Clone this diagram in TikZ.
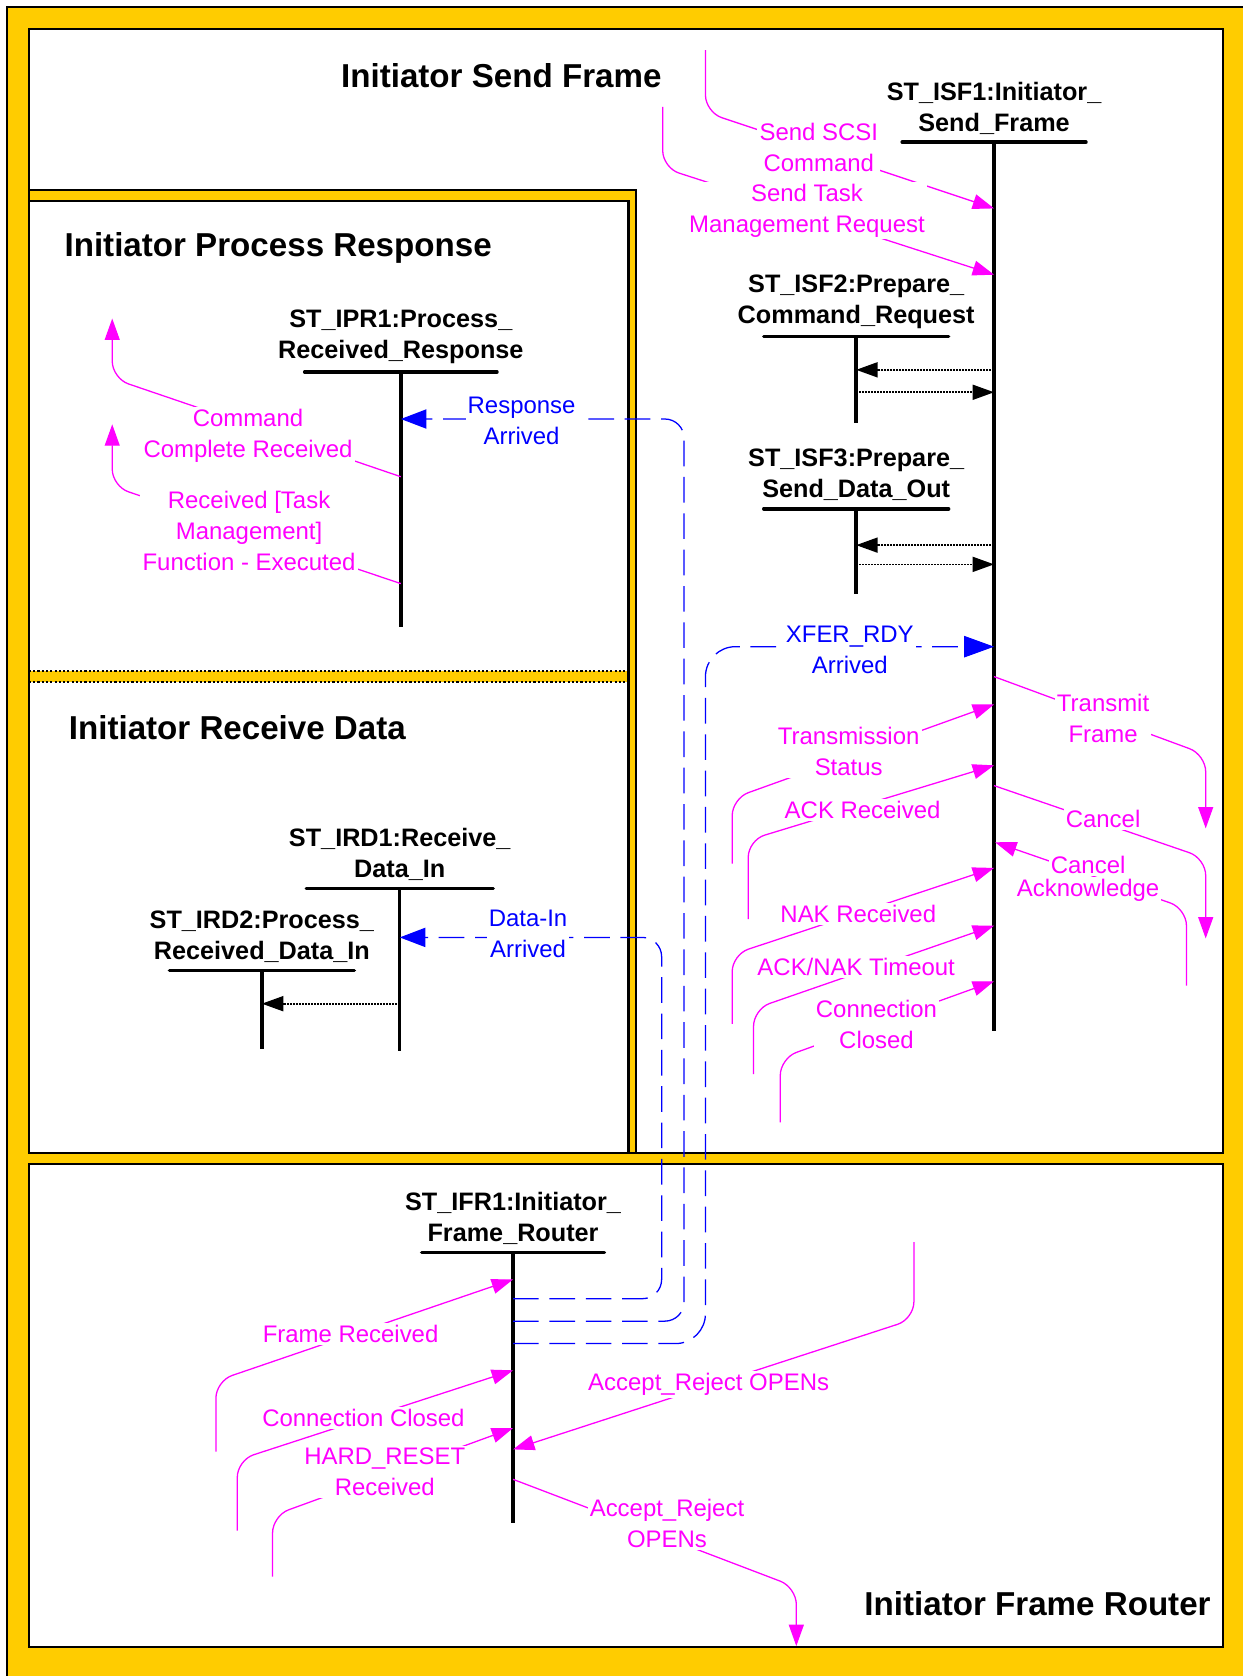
\documentclass[tikz,border=0pt]{standalone}
\usepackage{fontspec}
\setmainfont{Liberation Sans}
\usetikzlibrary{positioning,arrows.meta}
\definecolor{frameyellow}{RGB}{255,204,0}
\definecolor{msgmagenta}{RGB}{255,0,255}
\definecolor{arrblue}{RGB}{0,0,255}

\begin{document}
\begin{tikzpicture}[x=0.5pt, y=-0.5pt,
  title/.style={inner sep=0pt, font=\fontsize{15.5}{18}\selectfont\bfseries},
  stname/.style={align=center, inner sep=1pt, font=\fontsize{11.8}{14.5}\selectfont\bfseries},
  bar/.style={line width=1.6pt, line cap=round},
  life/.style={line width=1.6pt},
  lbl/.style={text=msgmagenta, fill=white, align=center, inner sep=1pt, font=\fontsize{11.2}{14.5}\selectfont},
  blbl/.style={lbl, text=arrblue},
  msg/.style={draw=msgmagenta, line width=0.6pt, rounded corners=8pt, -{Triangle[length=10pt,width=7pt]}},
  msgback/.style={msg, {Triangle[length=10pt,width=7pt]}-},
  frm/.style={draw=arrblue, line width=0.6pt, dash pattern=on 12pt off 5pt, rounded corners=9pt, -{Triangle[length=12pt,width=9pt]}},
  call/.style={line width=0.8pt, dash pattern=on 1pt off 0.4pt, -{Triangle[length=10pt,width=7pt]}}]

  \useasboundingbox (0,0) rectangle (1163,1568);
  \fill[frameyellow] (6.5,6.5) rectangle (1163,1568);
  \draw[line width=1pt] (6.5,1568) -- (6.5,6.5) -- (1163,6.5);
  \fill[white] (27,27) rectangle (1144,1079);
  \fill[white] (27,1089) rectangle (1144,1541);
  \fill[frameyellow] (27,178) rectangle (595,1079);
  \fill[white] (27,188) rectangle (588,628);
  \fill[white] (27,638) rectangle (588,1079);
  \draw[line width=1pt] (27,178) -- (595,178) -- (595,1079);
  \draw[line width=1pt] (27,188) -- (588,188) -- (588,1079);
  \draw[line width=1pt, densely dotted] (27,628) -- (588,628) (27,638) -- (588,638);
  \draw[line width=1pt] (27,27) rectangle (1144,1079);
  \draw[line width=1pt] (27,1089) rectangle (1144,1541);

  \node[title] (tsend) at (469,71) {Initiator Send Frame};
  \node[title, anchor=west] (tproc) at (60,232) {Initiator Process Response};
  \node[title, anchor=west] (trecv) at (64,681) {Initiator Receive Data};
  \node[title, anchor=east] (trout) at (1133,1500) {Initiator Frame Router};

  \coordinate (isf1-top) at (930,133);
  \coordinate (isf1-end) at (930,965);
  \coordinate (isf2-top) at (801,315);
  \coordinate (isf2-end) at (801,396);
  \coordinate (isf3-top) at (801,476);
  \coordinate (isf3-end) at (801,556);
  \coordinate (ipr1-top) at (375,348);
  \coordinate (ipr1-end) at (375,587);
  \coordinate (ird1-top) at (374,831);
  \coordinate (ird1-end) at (374,983);
  \coordinate (ird2-top) at (245,908);
  \coordinate (ird2-end) at (245,981);
  \coordinate (ifr1-top) at (480,1172);
  \coordinate (ifr1-end) at (480,1425);

  \node[stname, above=2.5pt of isf1-top] (isf1) {ST\_ISF1:Initiator\_\\Send\_Frame};
  \node[stname, above=2.5pt of isf2-top] (isf2) {ST\_ISF2:Prepare\_\\Command\_Request};
  \node[stname, above=2.5pt of isf3-top] (isf3) {ST\_ISF3:Prepare\_\\Send\_Data\_Out};
  \node[stname, above=2.5pt of ipr1-top] (ipr1) {ST\_IPR1:Process\_\\Received\_Response};
  \node[stname, above=2.5pt of ird1-top] (ird1) {ST\_IRD1:Receive\_\\Data\_In};
  \node[stname, above=2.5pt of ird2-top] (ird2) {ST\_IRD2:Process\_\\Received\_Data\_In};
  \node[stname, above=2.5pt of ifr1-top] (ifr1) {ST\_IFR1:Initiator\_\\Frame\_Router};

  \foreach \s/\w in {isf1/172, isf2/173, isf3/173, ipr1/180, ird1/175, ird2/173, ifr1/171} {
    \draw[bar] (\s-top) ++(-\w/2,0) -- ++(\w,0);
    \draw[life] (\s-top) -- (\s-end);
  }

  \coordinate (isf1-scsi) at (930,195);
  \coordinate (isf1-task) at (930,257);
  \coordinate (isf1-c2a) at (930,346);
  \coordinate (isf1-c2b) at (930,367);
  \coordinate (isf1-c3a) at (930,510);
  \coordinate (isf1-c3b) at (930,528);
  \coordinate (isf1-xfer) at (930,605);
  \coordinate (isf1-tx) at (930,633);
  \coordinate (isf1-tstat) at (930,659);
  \coordinate (isf1-ack) at (930,716);
  \coordinate (isf1-cancel) at (930,735);
  \coordinate (isf1-cack) at (931,788);
  \coordinate (isf1-nak) at (930,812);
  \coordinate (isf1-tmo) at (930,866);
  \coordinate (isf1-cls) at (930,918);
  \coordinate (isf2-a) at (801,346);
  \coordinate (isf2-b) at (801,367);
  \coordinate (isf3-a) at (801,510);
  \coordinate (isf3-b) at (801,528);
  \coordinate (ipr1-resp) at (375,392);
  \coordinate (ipr1-cc) at (375,446);
  \coordinate (ipr1-tm) at (375,546);
  \coordinate (ird1-data) at (374,877);
  \coordinate (ird1-call) at (374,939);
  \coordinate (ird2-call) at (245,939);
  \coordinate (ifr1-frm) at (480,1197);
  \coordinate (ifr1-data) at (480,1215);
  \coordinate (ifr1-resp) at (480,1236);
  \coordinate (ifr1-xfer) at (480,1257);
  \coordinate (ifr1-cls) at (480,1282);
  \coordinate (ifr1-hr) at (480,1336);
  \coordinate (ifr1-arin) at (480,1356);
  \coordinate (ifr1-arout) at (480,1384);

  \coordinate (scsi-src) at (660,47);
  \coordinate (task-src) at (620,100);
  \coordinate (cc-dst) at (105,298);
  \coordinate (tm-dst) at (105,397);
  \coordinate (tx-dst) at (1128,775);
  \coordinate (cancel-dst) at (1128,878);
  \coordinate (cack-src) at (1110,922);
  \coordinate (tstat-src) at (685,808);
  \coordinate (ack-src) at (700,860);
  \coordinate (nak-src) at (685,958);
  \coordinate (tmo-src) at (705,1005);
  \coordinate (cls-src) at (730,1050);
  \coordinate (frm-src) at (202,1358);
  \coordinate (fcls-src) at (222,1432);
  \coordinate (hr-src) at (255,1475);
  \coordinate (arin-src) at (855,1162);
  \coordinate (arout-dst) at (745,1540);
  \coordinate (data-turn) at (619,877);
  \coordinate (resp-turn) at (640,392);
  \coordinate (xfer-turn) at (660,605);

  \draw[call] (isf1-c2a) -- (isf2-a);
  \draw[call] (isf2-b) -- (isf1-c2b);
  \draw[call] (isf1-c3a) -- (isf3-a);
  \draw[call] (isf3-b) -- (isf1-c3b);
  \draw[call] (ird1-call) -- (ird2-call);

  \draw[frm] (ifr1-data) -| (data-turn) -- (ird1-data);
  \draw[frm] (ifr1-resp) -| (resp-turn) -- (ipr1-resp);
  \draw[frm, rounded corners=14pt, -{Triangle[length=14pt,width=10pt]}] (ifr1-xfer) -| (xfer-turn) -- (isf1-xfer);

  \draw[msg] (scsi-src) -- ++(0,58) -- (isf1-scsi);
  \draw[msg] (task-src) -- ++(0,57) -- (isf1-task);
  \draw[msgback] (cc-dst) -- ++(0,56) -- (ipr1-cc);
  \draw[msgback] (tm-dst) -- ++(0,58) -- (ipr1-tm);
  \draw[msgback] (tx-dst) -- ++(0,-69) -- (isf1-tx);
  \draw[msgback] (cancel-dst) -- ++(0,-75) -- (isf1-cancel);
  \draw[msg] (cack-src) -- ++(0,-72) -- (isf1-cack);
  \draw[msg] (tstat-src) -- ++(0,-61) -- (isf1-tstat);
  \draw[msg] (ack-src) -- ++(0,-74) -- (isf1-ack);
  \draw[msg] (nak-src) -- ++(0,-65) -- (isf1-nak);
  \draw[msg] (tmo-src) -- ++(0,-61) -- (isf1-tmo);
  \draw[msg] (cls-src) -- ++(0,-60) -- (isf1-cls);
  \draw[msg] (frm-src) -- ++(0,-66) -- (ifr1-frm);
  \draw[msg] (fcls-src) -- ++(0,-66) -- (ifr1-cls);
  \draw[msg] (hr-src) -- ++(0,-57) -- (ifr1-hr);
  \draw[msg] (arin-src) -- ++(0,72) -- (ifr1-arin);
  \draw[msgback] (arout-dst) -- ++(0,-55) -- (ifr1-arout);

  \node[lbl] (lscsi) at (766,138) {Send SCSI\\Command};
  \node[lbl] (ltask) at (755,197) {Send Task\\Management Request};
  \node[blbl] (lresp) at (488,394) {Response\\Arrived};
  \node[lbl] (lcc) at (232,408) {Command\\Complete Received};
  \node[lbl] (ltm) at (233,497) {Received [Task\\Management]\\Function - Executed};
  \node[blbl] (lxfer) at (795,608) {XFER\_RDY\\Arrived};
  \node[lbl] (ltx) at (1032,672) {Transmit\\Frame};
  \node[lbl] (ltstat) at (794,703) {Transmission\\Status};
  \node[lbl] (lack) at (807,758) {ACK Received};
  \node[lbl] (lcancel) at (1032,766) {Cancel};
  \node[lbl] (lcack) at (1018,809) {Cancel};
  \node[lbl, below=0pt of lcack] (lcack2) {Acknowledge};
  \node[lbl] (lnak) at (803,855) {NAK Received};
  \node[blbl] (ldata) at (494,874) {Data-In\\Arrived};
  \node[lbl] (ltmo) at (801,905) {ACK/NAK Timeout};
  \node[lbl] (lcls) at (820,958) {Connection\\Closed};
  \node[lbl] (lfrm) at (328,1248) {Frame Received};
  \node[lbl] (lfcls) at (340,1327) {Connection Closed};
  \node[lbl] (lhr) at (360,1377) {HARD\_RESET\\Received};
  \node[lbl] (larin) at (663,1295) {Accept\_Reject OPENs};
  \node[lbl] (larout) at (624,1425) {Accept\_Reject\\OPENs};
\end{tikzpicture}
\end{document}
